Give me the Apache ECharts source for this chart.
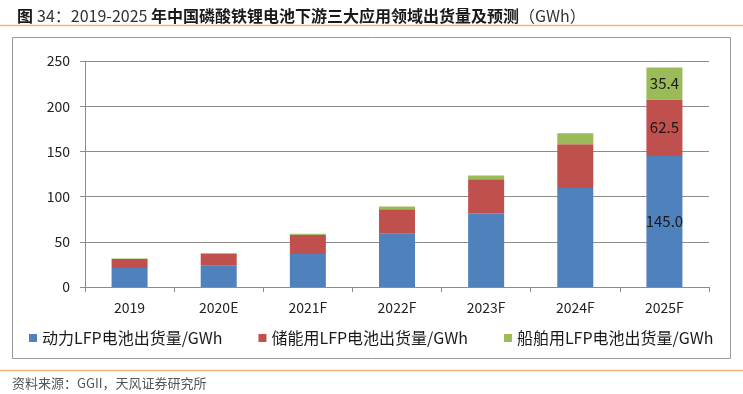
<!DOCTYPE html>
<html><head><meta charset="utf-8">
<script src="https://cdn.jsdelivr.net/npm/echarts@6/dist/echarts.min.js"></script>
<style>html,body{margin:0;padding:0;background:#fff}#c{width:743px;height:394px}</style>
</head><body><div id="c"></div>
<script>
const categories = ['2019','2020E','2021F','2022F','2023F','2024F','2025F'];
const powerLFP = [21.0, 23.5, 36.5, 59.0, 81.7, 109.4, 145.0];
const storageLFP = [9.9, 13.3, 21.3, 27.1, 37.6, 48.6, 62.5];
const shipLFP = [0.6, 0.7, 1.1, 3.0, 4.0, 12.0, 35.4];
const seriesNames = ['动力LFP电池出货量/GWh','储能用LFP电池出货量/GWh','船舶用LFP电池出货量/GWh'];
const yTicks = [0, 50, 100, 150, 200, 250];
const labeledIndex = 6;

const font = '"Noto Sans CJK SC", "Noto Sans", sans-serif';
const colors = ['#4F81BD', '#C0504D', '#9BBB59'];

function mk(name, data, color) {
  return {
    name, type: 'bar', stack: 'total', data: data, barWidth: 36,
    itemStyle: { color },
    label: {
      show: true, position: 'inside', color: '#1a1a1a', fontSize: 15, fontFamily: font,
      formatter: p => p.dataIndex === labeledIndex ? p.value.toFixed(1) : ''
    }
  };
}

const chart = echarts.init(document.getElementById('c'), null, { renderer: 'canvas' });
chart.setOption({
  animation: false,
  textStyle: { fontFamily: font },
  title: {
    left: 12, top: 2,
    text: '{b|图} {n|34：2019-2025 }{b|年中国磷酸铁锂电池下游三大应用领域出货量及预测}{n|（GWh）}',
    textStyle: {
      rich: {
        b: { fontSize: 16, fontWeight: 'bold', color: '#1a1a1a', fontFamily: font },
        n: { fontSize: 16, fontWeight: 'normal', color: '#333', fontFamily: font }
      }
    }
  },
  graphic: [
    { type: 'line', shape: { x1: 0, y1: 25.5, x2: 743, y2: 25.5 }, style: { stroke: '#F3B47E', lineWidth: 1.5 } },
    { type: 'rect', shape: { x: 12.5, y: 37.5, width: 718, height: 321 }, style: { fill: 'none', stroke: '#9a9a9a', lineWidth: 1 } },
    { type: 'line', shape: { x1: 0, y1: 370.5, x2: 743, y2: 370.5 }, style: { stroke: '#F3B47E', lineWidth: 1.5 } },
    { type: 'text', left: 12, top: 377, style: { text: '资料来源：GGII，天风证券研究所', fill: '#555', font: '13px ' + font } }
  ],
  legend: {
    data: seriesNames, left: 24, top: 325, itemWidth: 8, itemHeight: 8, itemGap: 36,
    icon: 'rect',
    textStyle: { fontSize: 16, color: '#1a1a1a', fontFamily: font }
  },
  grid: { left: 85, right: 34, top: 61, bottom: 107 },
  xAxis: {
    type: 'category', data: categories,
    axisLine: { lineStyle: { color: '#8c8c8c' } },
    axisTick: { show: true, length: 5, lineStyle: { color: '#8c8c8c' } },
    axisLabel: { fontSize: 14, color: '#222', margin: 14, fontFamily: font }
  },
  yAxis: {
    type: 'value', min: yTicks[0], max: yTicks[yTicks.length - 1], interval: 50,
    axisLine: { show: true, lineStyle: { color: '#8c8c8c' } },
    axisTick: { show: true, length: 5, lineStyle: { color: '#8c8c8c' } },
    splitLine: { lineStyle: { color: '#8c8c8c' } },
    axisLabel: { fontSize: 14, color: '#222', margin: 15, fontFamily: font }
  },
  series: [
    mk(seriesNames[0], powerLFP, colors[0]),
    mk(seriesNames[1], storageLFP, colors[1]),
    mk(seriesNames[2], shipLFP, colors[2])
  ]
});
</script></body></html>
